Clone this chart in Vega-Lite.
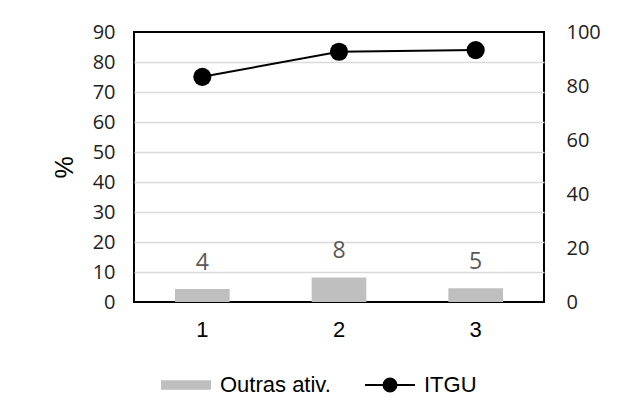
{
  "$schema": "https://vega.github.io/schema/vega-lite/v6.json",
  "width": 410,
  "height": 270,
  "autosize": {"type": "none"},
  "padding": {"left": 134, "top": 32, "right": 82, "bottom": 117},
  "background": "white",
  "data": {"values": [
    {"x": "1", "series": "Outras ativ.", "value": 4.3},
    {"x": "2", "series": "Outras ativ.", "value": 8.2},
    {"x": "3", "series": "Outras ativ.", "value": 4.6},
    {"x": "1", "series": "ITGU", "value": 83.4},
    {"x": "2", "series": "ITGU", "value": 92.7},
    {"x": "3", "series": "ITGU", "value": 93.3}
  ]},
  "encoding": {
    "x": {
      "field": "x", "type": "nominal",
      "scale": {"domain": ["1", "2", "3"], "paddingInner": 0.6, "paddingOuter": 0.3},
      "axis": {"title": null, "labelAngle": 0, "ticks": false, "domain": false, "labelPadding": 17,
               "labelFont": "Liberation Sans", "labelFontSize": 22, "labelColor": "black"}
    }
  },
  "layer": [
    {
      "transform": [{"filter": "datum.series === 'Outras ativ.'"}],
      "encoding": {
        "y": {
          "field": "value", "type": "quantitative",
          "scale": {"domain": [0, 90], "nice": false},
          "axis": {
            "title": "%", "values": [0, 10, 20, 30, 40, 50, 60, 70, 80, 90],
            "grid": true,
            "gridColor": {"condition": {"test": "datum.value === 0 || datum.value === 90", "value": "transparent"}, "value": "#d9d9d9"},
            "gridWidth": 1.5,
            "ticks": false, "domain": false, "labelPadding": 19,
            "labelFont": "Open Sans", "labelFontSize": 20, "labelColor": "#222222",
            "titleFont": "Liberation Sans", "titleFontSize": 25, "titleFontWeight": "normal", "titleColor": "black",
            "titlePadding": 15
          }
        }
      },
      "layer": [
        {
          "mark": {"type": "bar"},
          "encoding": {
            "color": {
              "field": "series", "type": "nominal",
              "scale": {"domain": ["Outras ativ.", "ITGU"], "range": ["#bfbfbf", "black"]},
              "legend": {
                "orient": "none", "legendX": 26, "legendY": 327,
                "direction": "horizontal", "title": null,
                "labelFont": "Liberation Sans", "labelFontSize": 22, "labelColor": "black",
                "symbolSize": 2500, "symbolStrokeWidth": 2, "labelOffset": 8, "columnPadding": 30,
                "encode": {
                  "symbols": {
                    "update": {
                      "shape": {"signal": "datum.value === 'ITGU' ? 'M-1,0H1M-0.26,0A0.26,0.26 0 1,1 0.26,0A0.26,0.26 0 1,1 -0.26,0Z' : 'M-1,-0.19H1V0.19H-1Z'"},
                      "fill": {"signal": "datum.value === 'ITGU' ? 'black' : '#bfbfbf'"},
                      "stroke": {"signal": "datum.value === 'ITGU' ? 'black' : 'transparent'"},
                      "strokeWidth": {"value": 2},
                      "opacity": {"value": 1}
                    }
                  }
                }
              }
            }
          }
        },
        {
          "mark": {"type": "text", "baseline": "bottom", "dy": -14, "font": "Open Sans", "fontSize": 23, "color": "#595959"},
          "encoding": {
            "text": {"field": "value", "type": "quantitative", "format": ".0f"}
          }
        }
      ]
    },
    {
      "transform": [{"filter": "datum.series === 'ITGU'"}],
      "mark": {"type": "line", "color": "black", "strokeWidth": 2, "point": {"filled": true, "size": 330, "color": "black"}},
      "encoding": {
        "y": {
          "field": "value", "type": "quantitative",
          "scale": {"domain": [0, 100], "nice": false},
          "axis": {
            "orient": "right", "title": null, "values": [0, 20, 40, 60, 80, 100],
            "grid": false, "ticks": false, "domain": false, "labelPadding": 22,
            "labelFont": "Open Sans", "labelFontSize": 20, "labelColor": "#222222"
          }
        }
      }
    }
  ],
  "resolve": {"scale": {"y": "independent"}, "axis": {"y": "independent"}},
  "config": {
    "view": {"stroke": "black", "strokeWidth": 2},
    "axis": {"labelFontWeight": "normal"}
  }
}
